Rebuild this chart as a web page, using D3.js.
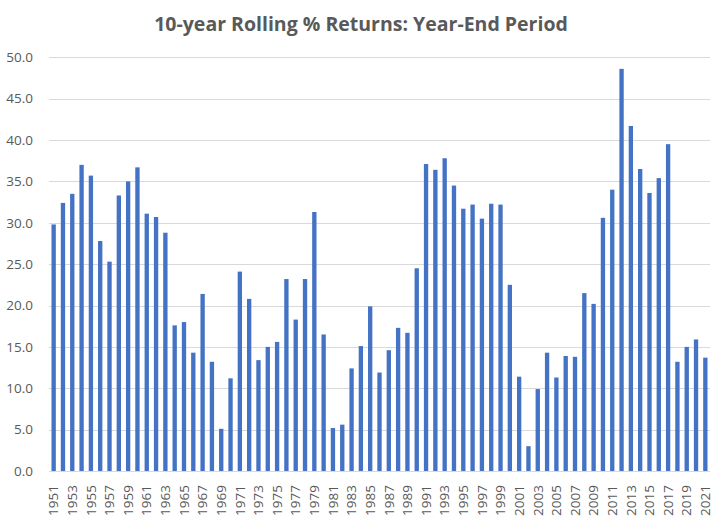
<!DOCTYPE html>
<html>
<head>
<meta charset="utf-8">
<script src="https://cdn.jsdelivr.net/npm/d3@7"></script>
<style>
  html, body { margin: 0; padding: 0; background: #fff; }
  svg { display: block; }
</style>
</head>
<body>
<svg id="chart" width="723" height="521"></svg>
<script>
const years = d3.range(1951, 2022).map(String);
const returns = [
  29.8, 32.4, 33.5, 37.0, 35.7, 27.8, 25.3, 33.3, 35.0, 36.7,
  31.1, 30.7, 28.8, 17.6, 18.0, 14.3, 21.4, 13.2, 5.1, 11.2,
  24.1, 20.8, 13.4, 15.0, 15.6, 23.2, 18.3, 23.2, 31.3, 16.5,
  5.2, 5.6, 12.4, 15.1, 19.9, 11.9, 14.6, 17.3, 16.7, 24.5,
  37.1, 36.4, 37.8, 34.5, 31.7, 32.2, 30.5, 32.3, 32.2, 22.5,
  11.4, 3.0, 9.9, 14.3, 11.3, 13.9, 13.8, 21.5, 20.2, 30.6,
  34.0, 48.6, 41.7, 36.5, 33.6, 35.4, 39.5, 13.2, 15.0, 15.9,
  13.7
];
const yTicks = [0, 5, 10, 15, 20, 25, 30, 35, 40, 45, 50];
const xTickLabels = years.filter((d, i) => i % 2 === 0);
const title = "10-year Rolling % Returns: Year-End Period";

const svg = d3.select("#chart");
const margin = { left: 49, right: 13, top: 57.3, bottom: 50 };
const W = 723, H = 521;
const y0 = 471;

const x = d3.scaleBand()
  .domain(years)
  .range([margin.left, W - margin.right])
  .paddingInner(0.535)
  .paddingOuter(0.2675);

const y = d3.scaleLinear()
  .domain([0, 50])
  .range([y0, margin.top]);

const font = "'Open Sans', 'Liberation Sans', sans-serif";
const gray = "#595959";

// Title
svg.append("text")
  .attr("x", 361)
  .attr("y", 31)
  .attr("text-anchor", "middle")
  .attr("font-family", font)
  .attr("font-weight", "bold")
  .attr("font-size", 19.5)
  .attr("fill", gray)
  .text(title);

// Grid lines
svg.append("g")
  .selectAll("line")
  .data(yTicks)
  .join("line")
  .attr("x1", margin.left)
  .attr("x2", W - margin.right)
  .attr("y1", d => Math.round(y(d)) + 0.5)
  .attr("y2", d => Math.round(y(d)) + 0.5)
  .attr("stroke", "#d9d9d9")
  .attr("stroke-width", 1);

// Y axis labels
const yAxis = d3.axisLeft(y)
  .tickValues(yTicks)
  .tickFormat(d3.format(".1f"))
  .tickSize(0)
  .tickPadding(16);
const gy = svg.append("g")
  .attr("transform", `translate(${margin.left},0)`)
  .call(yAxis);
gy.select(".domain").remove();
gy.selectAll("text")
  .attr("font-family", font)
  .attr("font-size", 13.5)
  .attr("fill", gray);

// Bars
svg.append("g")
  .selectAll("rect")
  .data(years.map((yr, i) => ({ yr, v: returns[i] })))
  .join("rect")
  .attr("x", d => x(d.yr))
  .attr("width", x.bandwidth())
  .attr("y", d => y(d.v))
  .attr("height", d => y(0) - y(d.v))
  .attr("fill", "#4472c4");

// X axis
const xAxis = d3.axisBottom(x)
  .tickValues(xTickLabels)
  .tickSize(0)
  .tickPadding(0);
const gx = svg.append("g")
  .attr("transform", `translate(0,${y0})`)
  .call(xAxis);
gx.select(".domain").remove();
gx.selectAll("text")
  .attr("font-family", font)
  .attr("font-size", 13.5)
  .attr("fill", gray)
  .attr("transform", "rotate(-90)")
  .attr("text-anchor", "end")
  .attr("x", -14)
  .attr("y", 0)
  .attr("dy", "0.35em");
</script>
</body>
</html>
